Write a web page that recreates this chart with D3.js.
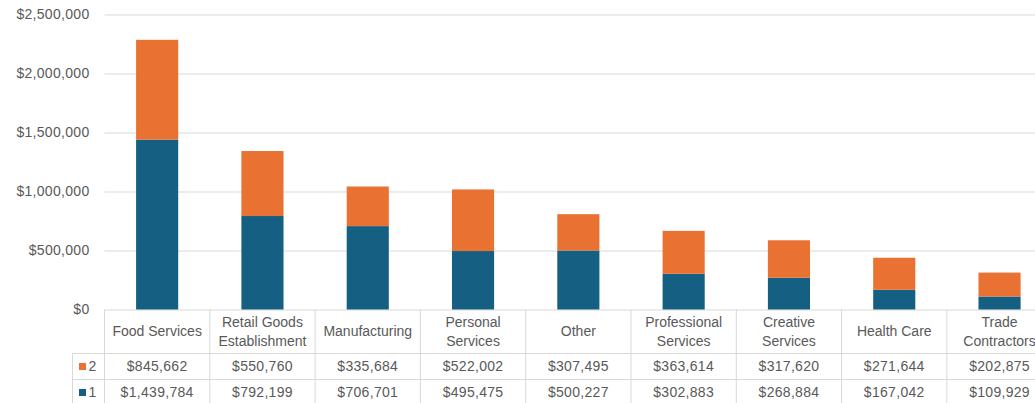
<!DOCTYPE html>
<html>
<head>
<meta charset="utf-8">
<script src="https://cdn.jsdelivr.net/npm/d3@7"></script>
<style>
  html, body { margin: 0; padding: 0; background: #fff; overflow: hidden; }
  svg { display: block; font-family: "Liberation Sans", Arial, sans-serif; }
  .num { letter-spacing: 0.3px; }
</style>
</head>
<body>
<svg id="chart" width="1035" height="403"></svg>
<script>
// Business categories and the two stacked series (1 = bottom, 2 = top)
const categories = [
  "Food Services", "Retail Goods Establishment", "Manufacturing",
  "Personal Services", "Other", "Professional Services",
  "Creative Services", "Health Care", "Trade Contractors"
];
const series1 = [1439784, 792199, 706701, 495475, 500227, 302883, 268884, 167042, 109929];
const series2 = [845662, 550760, 335684, 522002, 307495, 363614, 317620, 271644, 202875];
const seriesNames = ["1", "2"];
const yTicks = [0, 500000, 1000000, 1500000, 2000000, 2500000];

const colors = { "1": "#156082", "2": "#E97132" };
const textColor = "#595959";
const lineColor = "#D9D9D9";

const svg = d3.select("#chart");

const plotLeft = 104.5, step = 105.3;
const plotRight = plotLeft + step * categories.length;
const plotTop = 14.5, plotBottom = 309.5;

const x = d3.scaleBand()
  .domain(categories)
  .range([plotLeft, plotRight])
  .paddingInner(0.6)
  .paddingOuter(0.3);

const col = d3.scaleBand()
  .domain(categories)
  .range([plotLeft, plotRight])
  .padding(0);

const y = d3.scaleLinear()
  .domain([0, 2500000])
  .range([plotBottom, plotTop]);

const money = d3.format("$,");

// gridlines and tick labels
const yAxis = d3.axisLeft(y)
  .tickValues(yTicks)
  .tickFormat(money)
  .tickSize(-(1035 - plotLeft + 30))
  .tickPadding(15);

const gy = svg.append("g")
  .attr("transform", `translate(${plotLeft},0)`)
  .call(yAxis);
gy.select(".domain").remove();
gy.selectAll(".tick line").attr("stroke", lineColor).attr("stroke-width", 1);
gy.selectAll(".tick text")
  .attr("class", "num")
  .attr("fill", textColor)
  .style("font-size", "14px");

// stacked bars
const rows = categories.map((c, i) => ({ cat: c, "1": series1[i], "2": series2[i] }));
const stacked = d3.stack().keys(seriesNames)(rows);

svg.append("g").selectAll("g")
  .data(stacked)
  .join("g")
  .attr("fill", d => colors[d.key])
  .selectAll("rect")
  .data(d => d)
  .join("rect")
  .attr("x", d => x(d.data.cat))
  .attr("width", x.bandwidth())
  .attr("y", d => y(d[1]))
  .attr("height", d => y(d[0]) - y(d[1]));

// data table under the plot
const headerBottom = 353.5, rowH = 26;
const labelLeft = 72.5;
const table = svg.append("g");

// horizontal rules
[headerBottom, headerBottom + rowH].forEach(yy => {
  table.append("line")
    .attr("x1", labelLeft).attr("x2", 1035 + 30)
    .attr("y1", yy).attr("y2", yy)
    .attr("stroke", lineColor);
});
// vertical rules
d3.range(categories.length + 1).forEach(i => {
  const xx = plotLeft + i * col.step();
  table.append("line")
    .attr("x1", xx).attr("x2", xx)
    .attr("y1", plotBottom).attr("y2", 410)
    .attr("stroke", lineColor);
});
table.append("line")
  .attr("x1", labelLeft).attr("x2", labelLeft)
  .attr("y1", headerBottom).attr("y2", 410)
  .attr("stroke", lineColor);

// category headers, wrapped to the column width
const headerMid = (plotBottom + headerBottom) / 2;
categories.forEach(c => {
  const t = table.append("text")
    .attr("x", col(c) + col.bandwidth() / 2)
    .attr("text-anchor", "middle")
    .attr("fill", textColor)
    .style("font-size", "14px");
  const words = c.split(" ");
  const lines = [];
  let cur = [];
  words.forEach(w => {
    cur.push(w);
    t.text(cur.join(" "));
    if (t.node().getComputedTextLength() > col.bandwidth() - 8 && cur.length > 1) {
      cur.pop();
      lines.push(cur.join(" "));
      cur = [w];
    }
  });
  lines.push(cur.join(" "));
  t.text(null);
  const lh = 19;
  lines.forEach((ln, k) => {
    t.append("tspan")
      .attr("x", col(c) + col.bandwidth() / 2)
      .attr("y", headerMid + (k - (lines.length - 1) / 2) * lh)
      .attr("dy", "0.35em")
      .text(ln);
  });
});

// value rows: series 2 above series 1
const tableRows = [
  { key: "2", values: series2 },
  { key: "1", values: series1 }
];
tableRows.forEach((r, ri) => {
  const cy = headerBottom + ri * rowH + rowH / 2;
  table.append("rect")
    .attr("x", 79).attr("y", cy - 3.5)
    .attr("width", 7).attr("height", 7)
    .attr("fill", colors[r.key]);
  table.append("text")
    .attr("x", 88.5).attr("y", cy).attr("dy", "0.35em")
    .attr("fill", textColor)
    .style("font-size", "14px")
    .text(r.key);
  r.values.forEach((v, i) => {
    table.append("text")
      .attr("class", "num")
      .attr("x", col(categories[i]) + col.bandwidth() / 2)
      .attr("y", cy).attr("dy", "0.35em")
      .attr("text-anchor", "middle")
      .attr("fill", textColor)
      .style("font-size", "14px")
      .text(money(v));
  });
});
</script>
</body>
</html>
